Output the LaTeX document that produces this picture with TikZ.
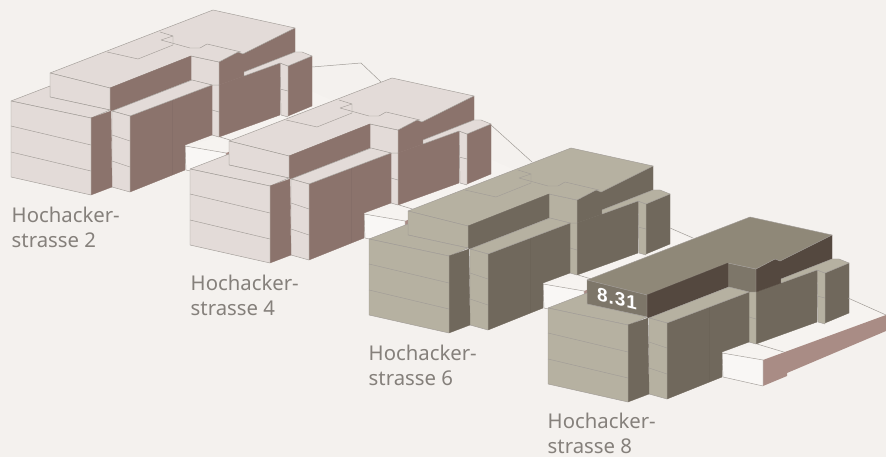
\documentclass[tikz,border=0pt]{standalone}
\usepackage{fontspec}
\setmainfont{Noto Sans}
\newfontfamily\numfont[LetterSpace=5]{Liberation Sans}
\definecolor{bg}{HTML}{F4F1EE}
\definecolor{gtop}{HTML}{F6F3F0}
\definecolor{gfront}{HTML}{F9F7F5}
\definecolor{edge}{HTML}{A19C97}
\definecolor{pinkL}{HTML}{E3DBD8}
\definecolor{pinkD}{HTML}{8B736C}
\definecolor{pinkS}{HTML}{A98C85}
\definecolor{oliveL}{HTML}{B6B1A1}
\definecolor{oliveD}{HTML}{70685C}
\definecolor{roofD}{HTML}{8F8878}
\definecolor{frontD}{HTML}{7D7669}
\definecolor{veryD}{HTML}{54483F}
\definecolor{labelc}{HTML}{85807B}
\tikzset{
  face/.style={fill=#1,draw=#1,line width=.3pt,line join=round},
  lit/.style={fill=#1,draw=edge,line width=.45pt,line join=round},
  thin edge/.style={draw=edge,line width=.45pt},
  ground/.style={draw=edge,line width=.5pt},
  caption/.style={anchor=north west,inner sep=0pt,align=left,text=labelc,font=\fontsize{20.4}{25}\selectfont},
}
% #1 shift x, #2 shift y, #3 roof, #4 upper front, #5 upper dark, #6 light, #7 dark, #8 extra roof marks
\newcommand{\housing}[8]{%
\begin{scope}[shift={(#1,#2)}]
  % low box
  \fill[gtop] (185,146)--(219,137)--(311,91)--(349,108)--(226,153)--cycle;
  \draw[ground] (220,137)--(250,146);
  \fill[pinkS] (226,153)--(349,108)--(349,124)--(250,166)--(250,169)--(226,179)--cycle;
  \draw[lit=gfront] (185,146)--(226,153)--(226,179)--(186,170)--cycle;
  % small right wing
  \path[face=#7] (288,66)--(312,56)--(312,106)--(288,116)--cycle;
  \path[lit=#6] (280,63)--(288,66)--(288,117)--(281,115)--cycle;
  \draw[thin edge] (280,89)--(288,91);
  % main right dark
  \path[face=#7] (219,85)--(244,76)--(280,63)--(280,115)--(219,137)--cycle;
  \path[face=#5] (219,62)--(238,52)--(295,28)--(295,52)--(244,72)--(244,76)--(219,85)--cycle;
  \path[lit=#6] (244,72)--(295,52)--(302,52)--(312,56)--(288,66)--(280,63)--(244,76)--cycle;
  % bridge and column
  \path[lit=#6] (212,85)--(219,85)--(219,137)--(212,135)--cycle;
  \draw[thin edge] (212,110)--(219,112);
  \path[lit=#4] (191,56)--(219,62)--(219,85)--(212,85)--(191,80)--cycle;
  % upper block
  \path[lit=#3] (50,73)--(213,10)--(295,28)--(243,54)--(238,52)--(219,62)--(191,56)--(110,88)--cycle;
  \path[face=#5] (110,88)--(191,56)--(191,80)--(112,111)--(110,110)--cycle;
  \path[lit=#4] (50,73)--(110,88)--(110,110)--(50,97)--cycle;
  #8
  % lower wing
  \path[face=#7] (130,116)--(212,85)--(212,135)--(185,145)--(185,170)--(130,192)--cycle;
  \draw[#7!96!black,line width=.3pt] (172,100)--(172,175);
  \path[lit=#6] (112,111)--(130,116)--(212,85)--(192,80)--cycle;
  \path[lit=#6] (112,111)--(130,116)--(130,192)--(112,187)--cycle;
  \draw[thin edge] (112,135)--(130,141);
  \draw[thin edge] (112,161)--(130,167);
  % lower block
  \path[lit=#6] (11,101)--(50,86)--(50,97)--(110,110)--(91,118)--cycle;
  \path[face=#7] (91,118)--(111,111)--(112,187)--(91,195)--cycle;
  \path[lit=#6] (11,101)--(91,118)--(91,195)--(11,177)--cycle;
  \draw[thin edge] (11,126)--(91,145);
  \draw[thin edge] (11,152)--(91,171);
\end{scope}}
\newcommand{\steps}{\draw[thin edge,line join=round] (107,52)--(138,59)--(173,45)--(173,36)--(160,32);
  \draw[thin edge,line join=round] (173,36)--(161,40)--(190,48)--(200,48)--(207,44)--(241,52);}
\begin{document}
\begin{tikzpicture}[x=1bp,y=-1bp]
  \useasboundingbox (0,0) rectangle (886,457);
  \fill[bg] (0,0) rectangle (886,457);
  \housing{0}{0}{pinkL}{pinkL}{pinkD}{pinkL}{pinkD}{\steps}
  \coordinate (g1a) at (312,67); \coordinate (g1b) at (361,63); \coordinate (g1c) at (381,82);
  \draw[ground] (g1a)--(g1b)--(g1c);
  \housing{179}{68}{pinkL}{pinkL}{pinkD}{pinkL}{pinkD}{\steps}
  \coordinate (g2a) at (491,125); \coordinate (g2b) at (532,162);
  \draw[ground] (g2a)--(g2b);
  \housing{358}{138}{oliveL}{oliveL}{oliveD}{oliveL}{oliveD}{\steps}
  \coordinate (g3a) at (670,228); \coordinate (g3b) at (693,238);
  \draw[ground] (g3a)--(g3b);
  \housing{537}{207}{roofD}{frontD}{veryD}{oliveL}{oliveD}{}
  \coordinate (g4a) at (848,298); \coordinate (g4b) at (886,315);
  \draw[ground] (g4a)--(g4b);
  \node[caption] (c1) at (11.5,207) {Hochacker-\\strasse 2};
  \node[caption] (c2) at (190.5,275) {Hochacker-\\strasse 4};
  \node[caption] (c3) at (368.5,345) {Hochacker-\\strasse 6};
  \node[caption] (c4) at (547.5,413) {Hochacker-\\strasse 8};
  \begin{scope}[cm={1,-0.24,0,1,(617,299)}]
    \node[transform shape,text=white,inner sep=0pt,font=\numfont\fontsize{19}{21}\selectfont\bfseries] (price) at (0,0) {8.31};
  \end{scope}
\end{tikzpicture}
\end{document}
